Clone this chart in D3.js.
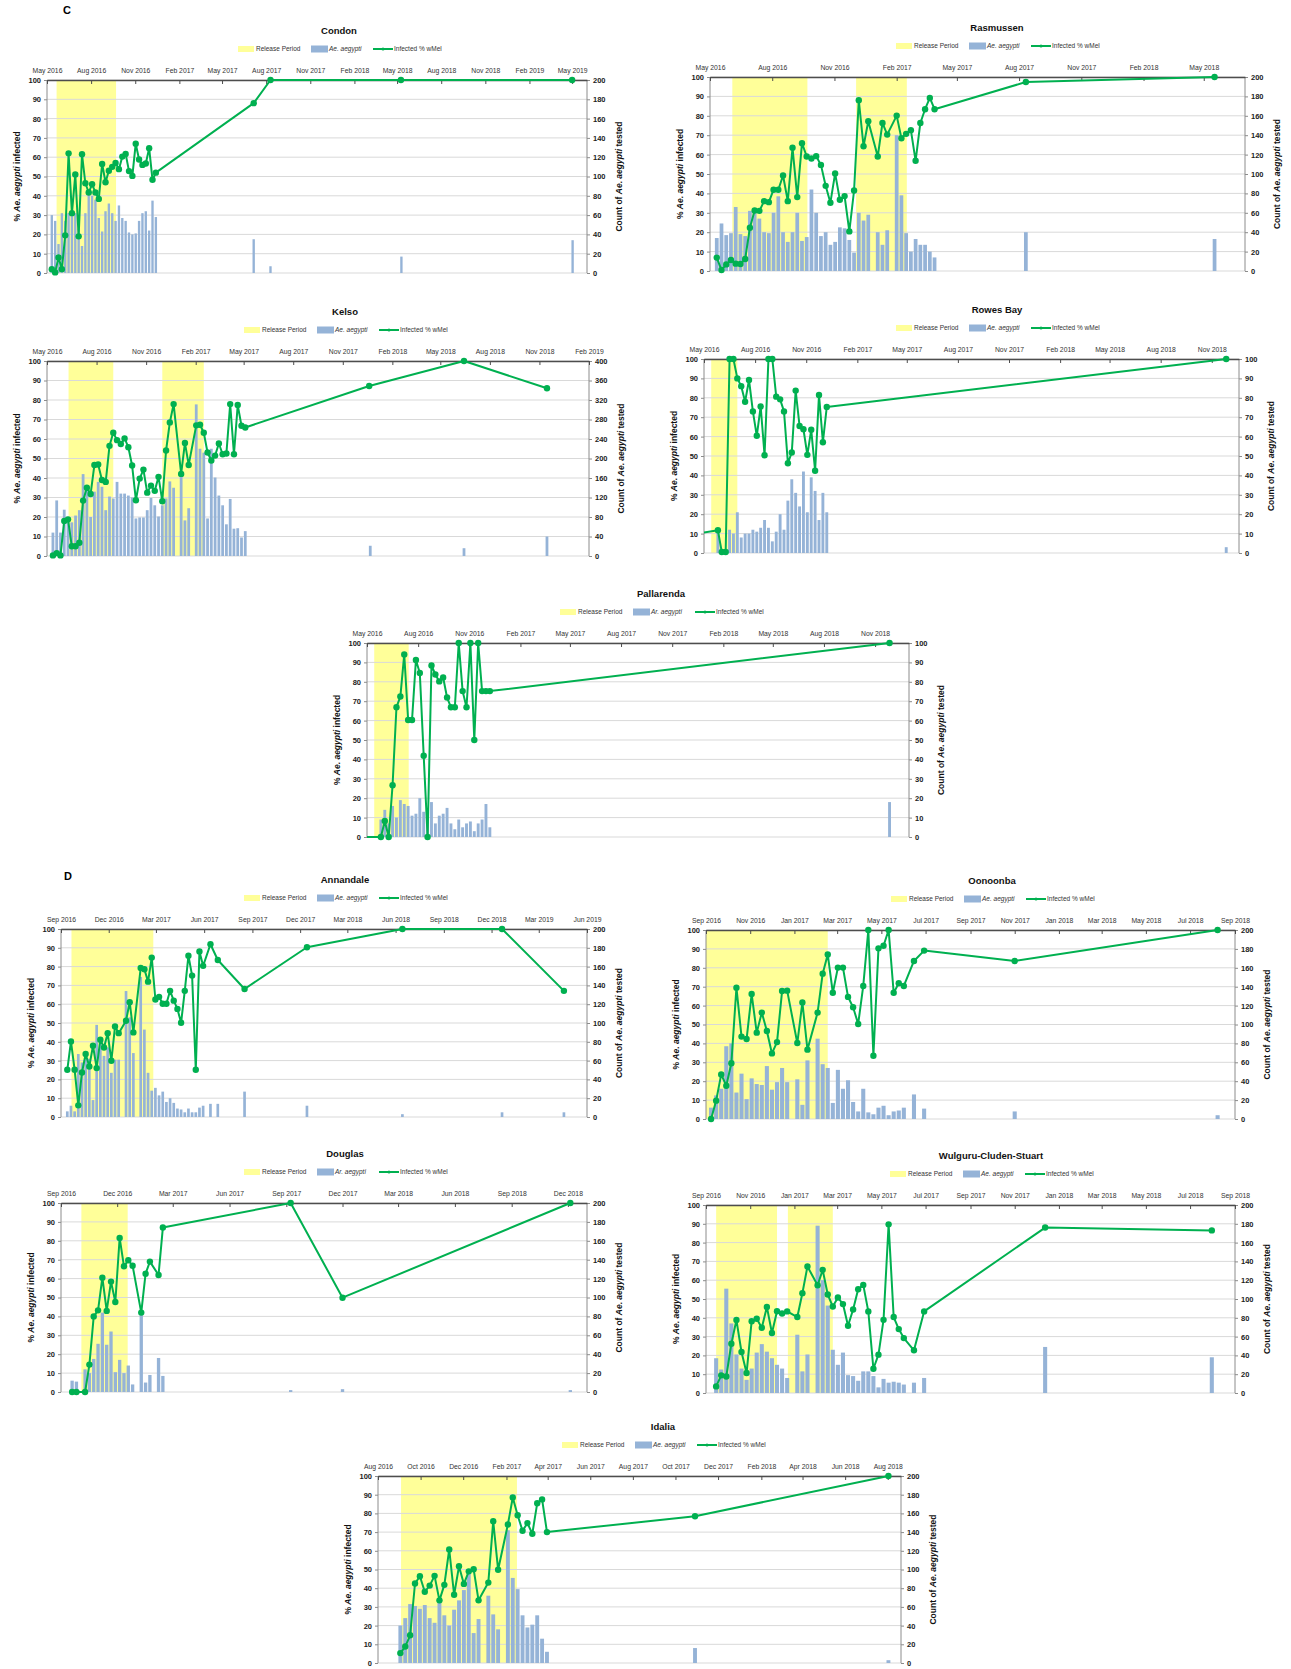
<!DOCTYPE html>
<html><head><meta charset="utf-8">
<script src="https://cdn.jsdelivr.net/npm/d3@7"></script>
<style>body{margin:0;background:#fff}text{font-family:"Liberation Sans",Arial,sans-serif}</style>
</head><body><svg id="c" width="1291" height="1669"></svg>
<script>
// ---------------- DATA ----------------
// weekly series: first date, then one value per week (null = no sample)
const condonStart = "2016-05-11";
const condonLine = [2,0.3,8,2,19.5,62,31,51,19,61.5,46.5,41.7,46,41.7,38.4,56.5,47,53,55,57,53.8,60.3,61.7,52.8,50.3,67,58.8,56,56.7,64.7,48.3,52];
const condonBars = [60,54,30,62,54,62,62,62,46,28,62,82,80,76,57,43,64,72,62,54,70,57,54,42,40,41,54,62,64,44,75,58];
const condonLateLine = [["2017-07-06",88],["2017-08-10",100],["2018-05-09",100],["2019-05-01",100]];
const condonLateBars = [["2017-07-06",35],["2017-08-10",7],["2018-05-10",17],["2019-05-02",34]];
const condonRelease = [["2016-05-21","2016-09-22"]];

const rasmussenStart = "2016-05-11";
const rasmussenLine = [6.9,0.5,3.4,5.7,3.8,3.6,6.2,22.3,31.2,31,36,35.5,41.9,41.9,49.2,36,63.5,38.1,65.9,59,58,59.2,54.7,43.9,35.2,50.3,36.7,38.6,20.4,41.5,88,64.3,77.2,null,59,76.3,70.3,null,80.1,68.4,70.7,72.6,56.8,76.3,83.4,89.2,83.4];
const rasmussenBars = [34,49,37,39,66,38,36,62,61,54,40,39,60,77,40,30,40,60,31,35,84,60,36,40,27,30,45,44,32,19,60,52,58,null,40,27,42,null,140,78,39,20,33,27,27,20,14];
const rasmussenLateLine = [["2017-08-11",97.4],["2018-05-17",100]];
const rasmussenLateBars = [["2017-08-11",40],["2018-05-17",33]];
const rasmussenRelease = [["2016-06-03","2016-09-22"],["2016-12-03","2017-02-16"]];

const kelsoStart = "2016-05-12";
const kelsoLine = [0.3,1.5,0.3,18,18.8,5,5,6.8,28.4,35,31.8,46.7,46.9,39,38,56.5,63.2,59.4,57.4,60.3,55.8,46.4,28.6,39.7,44.3,32.5,36.1,33.4,40.6,28.1,54.1,68.5,77.9,null,42.1,58,46.7,null,67,67.3,63.2,53.1,49,51.5,57.7,52.2,52.6,77.9,52.2,77.4,66.8,65.9];
const kelsoBars = [48,114,48,95,80,69,83,94,168,140,80,132,152,142,94,122,118,152,128,128,124,120,77,79,79,94,119,104,81,104,118,153,140,null,167,73,98,null,311,220,212,77,220,161,124,104,65,117,56,57,38,51];
const kelsoLateLine = [["2017-12-20",87.2],["2018-06-14",100],["2018-11-15",86]];
const kelsoLateBars = [["2017-12-22",21],["2018-06-14",16],["2018-11-15",40]];
const kelsoRelease = [["2016-06-10","2016-09-01"],["2016-12-01","2017-02-16"]];

const rowesStart = "2016-05-26";
const rowesPrior = [["2016-03-01",8]];
const rowesLine = [11.7,0.5,0.5,100,100,90,86,78,89.2,73,60.4,75.5,50.4,100,100,80.6,79.2,73,46.3,51.8,83.7,65.5,63.8,50.6,63.5,42.4,81.5,57.1,75.3];
const rowesBars = [11,null,null,12,10,21,8,10,10,12,11,13,17,13,6,11,20,12,27,38,31,24,42,21,39,32,17,31,21];
const rowesLateLine = [["2018-11-27",100]];
const rowesLateBars = [["2018-11-27",3]];
const rowesRelease = [["2016-05-14","2016-06-30"]];

const pallarendaStart = "2016-05-26";
const pallarendaPrior = [["2016-03-01",0]];
const pallarendaLine = [0,8.3,0,26.7,66.9,72.4,94.1,60.3,60.3,91.2,84.5,41.9,0,88.4,83.8,80.2,82.2,71.9,66.9,66.9,100,75.2,66.9,100,50,100,75.2,75.2,75.2];
const pallarendaBars = [9,14,7,16,10,19,17,16,11,12,20,13,13,18,7,11,12,15,7,4,9,5,7,8,3,7,9,17,5];
const pallarendaLateLine = [["2018-11-27",100]];
const pallarendaLateBars = [["2018-11-27",18]];
const pallarendaRelease = [["2016-05-14","2016-07-15"]];

const annandaleStart = "2016-09-13";
const annandaleLine = [25.1,40.2,25.1,6.2,23.7,33.5,26.9,37.9,26,41.1,37,44.6,29.9,48.1,44.6,null,51.2,61.1,45,null,79.3,78.6,72,84.8,62.5,63.9,60.2,60.2,67.1,61.9,57.5,50.1,67.1,85.8,75.2,25.1,88,80.4,null,91.9,null,83.5];
const annandaleBars = [6,12,6,67,58,66,62,18,98,84,65,74,47,61,61,null,134,106,68,null,149,93,47,28,31,23,27,16,20,15,9,8,5,9,5,5,10,12,null,14,null,14];
const annandaleLateLine = [["2017-08-17",68.1],["2017-12-14",90.3],["2018-06-14",100],["2018-12-21",100],["2019-04-18",67.1]];
const annandaleLateBars = [["2017-08-17",27],["2017-12-14",12],["2018-06-14",3],["2018-12-21",5],["2019-04-18",5]];
const annandaleRelease = [["2016-09-21","2017-02-24"]];

const oonoonbaStart = "2016-09-08";
const oonoonbaLine = [0,9.7,23.6,17.6,29.5,69.5,43.6,42.3,66.1,45.7,56.3,46.6,34.7,40.7,67.7,67.9,null,40.2,61.7,36.7,null,56.3,76.9,87.1,66.8,80.1,80.1,64.6,59.1,50.3,70.4,100,33.5,90.3,91.7,100,66.8,71.8,70.4,null,83.6,null,89.1];
const oonoonbaBars = [12,25,32,77,80,28,48,21,43,37,36,56,31,39,54,39,null,42,15,62,null,85,58,54,17,52,32,41,18,8,32,7,5,12,14,4,8,9,12,null,26,null,11];
const oonoonbaLateLine = [["2017-11-01",83.6],["2018-08-08",100]];
const oonoonbaLateBars = [["2017-11-01",8],["2018-08-08",4]];
const oonoonbaRelease = [["2016-09-01","2017-02-16"]];

const douglasStart = "2016-09-19";
const douglasLine = [0,0,null,0,14.5,40,43.2,60.5,42.9,58.4,47.6,81.5,66.5,69.7,66.8,null,42,62.6,69,null,61.9,87];
const douglasBars = [12,11,null,24,20,35,51,84,50,64,21,34,20,28,8,null,84,10,18,null,36,17];
const douglasLateLine = [["2017-09-08",100],["2017-12-01",49.9],["2018-12-05",100]];
const douglasLateBars = [["2017-09-08",2],["2017-12-01",3],["2018-12-05",2]];
const douglasRelease = [["2016-10-04","2016-12-18"]];

const wulguruStart = "2016-09-15";
const wulguruLine = [3.5,9.4,8.8,26.2,38.8,21.8,10.6,38.2,39.5,34.7,45.8,31.9,43.5,42.3,43.4,null,40.4,53.1,67.3,null,57.3,65.5,52.4,46,50.8,47.3,35.8,44.4,55.2,57.5,43.4,12.9,20.4,38.9,89.7,40.4,34,29.2,null,22.7,null,43.4];
const wulguruBars = [37,25,111,74,41,26,14,26,43,52,44,37,30,26,16,null,62,23,41,null,178,120,93,46,30,43,19,18,13,23,23,18,6,15,11,12,11,9,null,11,null,16];
const wulguruLateLine = [["2017-12-13",88],["2018-07-31",86.5]];
const wulguruLateBars = [["2017-12-13",49],["2018-07-31",38]];
const wulguruRelease = [["2016-09-15","2016-12-08"],["2016-12-23","2017-02-23"]];

const idaliaStart = "2016-09-02";
const idaliaLine = [5.3,8.8,14.8,42.5,46.4,38.1,41.4,46.6,33.5,41.8,60.7,36.5,51.7,42.3,49,50.1,33.5,null,43,75.8,49.9,null,74.1,88.5,79,70.7,74.8,69.1,85.4,87.5,70];
const idaliaBars = [40,48,63,61,58,62,48,43,65,51,40,57,67,78,98,32,47,null,72,52,36,null,142,91,79,51,38,41,51,26,12];
const idaliaLateLine = [["2017-10-29",78.5],["2018-08-02",100]];
const idaliaLateBars = [["2017-10-29",16],["2018-08-02",3]];
const idaliaRelease = [["2016-09-03","2017-02-16"]];

const legendLabels = ["Release Period", "Infected % wMel"];

// ---------------- PANEL CONFIG ----------------
const panels = [
 {name:"Condon", d0:"2016-05-01", d1:"2019-06-01", months:3, rmax:200, start:condonStart, line:condonLine, bars:condonBars, lateLine:condonLateLine, lateBars:condonLateBars, release:condonRelease, prior:[], sp:"Ae. aegypti",
  L:47,R:587,T:80,B:273,tx:339},
 {name:"Rasmussen", d0:"2016-05-01", d1:"2018-07-01", months:3, rmax:200, start:rasmussenStart, line:rasmussenLine, bars:rasmussenBars, lateLine:rasmussenLateLine, lateBars:rasmussenLateBars, release:rasmussenRelease, prior:[], sp:"Ae. aegypti",
  L:710,R:1245,T:77,B:271,tx:997},
 {name:"Kelso", d0:"2016-05-01", d1:"2019-02-01", months:3, rmax:400, start:kelsoStart, line:kelsoLine, bars:kelsoBars, lateLine:kelsoLateLine, lateBars:kelsoLateBars, release:kelsoRelease, prior:[], sp:"Ae. aegypti",
  L:47,R:589,T:361,B:556,tx:345},
 {name:"Rowes Bay", d0:"2016-05-01", d1:"2018-12-20", months:3, rmax:100, start:rowesStart, line:rowesLine, bars:rowesBars, lateLine:rowesLateLine, lateBars:rowesLateBars, release:rowesRelease, prior:rowesPrior, sp:"Ae. aegypti",
  L:704,R:1239,T:359,B:553,tx:997},
 {name:"Pallarenda", d0:"2016-05-01", d1:"2019-01-01", months:3, rmax:100, start:pallarendaStart, line:pallarendaLine, bars:pallarendaBars, lateLine:pallarendaLateLine, lateBars:pallarendaLateBars, release:pallarendaRelease, prior:pallarendaPrior, sp:"Ar. aegypti",
  L:367,R:909,T:643,B:837,tx:661},
 {name:"Annandale", d0:"2016-09-01", d1:"2019-06-01", months:3, rmax:200, start:annandaleStart, line:annandaleLine, bars:annandaleBars, lateLine:annandaleLateLine, lateBars:annandaleLateBars, release:annandaleRelease, prior:[], sp:"Ae. aegypti",
  L:61,R:587,T:929,B:1117,tx:345},
 {name:"Oonoonba", d0:"2016-09-01", d1:"2018-09-01", months:2, rmax:200, start:oonoonbaStart, line:oonoonbaLine, bars:oonoonbaBars, lateLine:oonoonbaLateLine, lateBars:oonoonbaLateBars, release:oonoonbaRelease, prior:[], sp:"Ae. aegypti",
  L:706,R:1235,T:930,B:1119,tx:992},
 {name:"Douglas", d0:"2016-09-01", d1:"2019-01-01", months:3, rmax:200, start:douglasStart, line:douglasLine, bars:douglasBars, lateLine:douglasLateLine, lateBars:douglasLateBars, release:douglasRelease, prior:[], sp:"Ar. aegypti",
  L:61,R:587,T:1203,B:1392,tx:345},
 {name:"Wulguru-Cluden-Stuart", d0:"2016-09-01", d1:"2018-09-01", months:2, rmax:200, start:wulguruStart, line:wulguruLine, bars:wulguruBars, lateLine:wulguruLateLine, lateBars:wulguruLateBars, release:wulguruRelease, prior:[], sp:"Ae. aegypti",
  L:706,R:1235,T:1205,B:1393,tx:991},
 {name:"Idalia", d0:"2016-08-01", d1:"2018-08-20", months:2, rmax:200, start:idaliaStart, line:idaliaLine, bars:idaliaBars, lateLine:idaliaLateLine, lateBars:idaliaLateBars, release:idaliaRelease, prior:[], sp:"Ae. aegypti",
  L:378,R:901,T:1476,B:1663,tx:663}
];

// ---------------- DRAW ----------------
const svg = d3.select("#c");
const parse = d3.timeParse("%Y-%m-%d");
const fmt = d3.timeFormat("%b %Y");
const YELLOW = "#FFFF99", BLUE = "#95B3D7", GREEN = "#00B050";

svg.append("text").attr("x",63).attr("y",14).attr("font-size",11).attr("font-weight","bold").text("C");
svg.append("text").attr("x",64).attr("y",880).attr("font-size",11).attr("font-weight","bold").text("D");

panels.forEach((p,pi) => {
  const g = svg.append("g");
  const d0 = parse(p.d0), d1 = parse(p.d1);
  const x = d3.scaleTime().domain([d0,d1]).range([p.L,p.R]);
  const y = d3.scaleLinear().domain([0,100]).range([p.B,p.T]);
  const y2 = d3.scaleLinear().domain([0,p.rmax]).range([p.B,p.T]);
  const s0 = parse(p.start);
  const wk = i => d3.timeDay.offset(s0, 7*i);

  // release periods
  g.selectAll(null).data(p.release).join("rect")
    .attr("x", d => x(parse(d[0]))).attr("width", d => x(parse(d[1])) - x(parse(d[0])))
    .attr("y", p.T).attr("height", p.B - p.T).attr("fill", YELLOW);

  // gridlines
  g.selectAll(null).data(d3.range(0,101,10)).join("line")
    .attr("x1",p.L).attr("x2",p.R).attr("y1",d=>y(d)).attr("y2",d=>y(d))
    .attr("stroke","#D9D9D9").attr("stroke-width",1);

  // bars
  const barData = p.bars.map((v,i)=>({d:wk(i), v})).filter(b=>b.v!=null)
    .concat(p.lateBars.map(b=>({d:parse(b[0]), v:b[1]})));
  const bw = x(d3.timeDay.offset(d0,7)) - x(d0);
  g.selectAll(null).data(barData).join("rect")
    .attr("x", b => x(b.d) - bw/2 + 0.5).attr("width", Math.max(1, bw - 1))
    .attr("y", b => y2(b.v)).attr("height", b => p.B - y2(b.v)).attr("fill", BLUE);

  // axes lines
  g.append("line").attr("x1",p.L).attr("x2",p.L).attr("y1",p.T).attr("y2",p.B).attr("stroke","#8C8C8C");
  g.append("line").attr("x1",p.R).attr("x2",p.R).attr("y1",p.T).attr("y2",p.B).attr("stroke","#8C8C8C");

  // left axis
  const ly = g.append("g").attr("transform",`translate(${p.L},0)`)
    .call(d3.axisLeft(y).tickValues(d3.range(0,101,10)).tickSize(3).tickPadding(3));
  ly.select(".domain").remove();
  ly.selectAll("line").attr("stroke","#8C8C8C");
  ly.selectAll("text").attr("font-size",7.5).attr("font-weight","bold").attr("fill","#222")
    .style("font-family",'"Liberation Sans",Arial,sans-serif');
  // right axis
  const ry = g.append("g").attr("transform",`translate(${p.R},0)`)
    .call(d3.axisRight(y2).tickValues(d3.range(0,p.rmax+1,p.rmax/10)).tickSize(3).tickPadding(3));
  ry.select(".domain").remove();
  ry.selectAll("line").attr("stroke","#8C8C8C");
  ry.selectAll("text").attr("font-size",7.5).attr("font-weight","bold").attr("fill","#222")
    .style("font-family",'"Liberation Sans",Arial,sans-serif');

  // top time axis
  const ticks = d3.timeMonth.range(d0, d3.timeDay.offset(d1,1), p.months);
  const tx = g.append("g").attr("transform",`translate(0,${p.T})`)
    .call(d3.axisTop(x).tickValues(ticks).tickFormat(fmt).tickSizeInner(-4).tickSizeOuter(0).tickPadding(7));
  tx.select(".domain").attr("stroke","#4D4D4D").attr("stroke-width",1.6);
  tx.selectAll("line").attr("stroke","#4D4D4D").attr("stroke-width",1);
  tx.selectAll("text").attr("font-size",6.8).attr("fill","#333")
    .style("font-family",'"Liberation Sans",Arial,sans-serif');

  // line
  const clipId = "clip"+pi;
  svg.append("clipPath").attr("id",clipId).append("rect")
    .attr("x",p.L).attr("y",p.T-6).attr("width",p.R-p.L).attr("height",p.B-p.T+12);
  const pts = p.line.map((v,i)=>({d:wk(i), v})).filter(q=>q.v!=null)
    .concat(p.lateLine.map(q=>({d:parse(q[0]), v:q[1]})));
  const all = p.prior.map(q=>({d:parse(q[0]), v:q[1]})).concat(pts);
  const lg = g.append("g").attr("clip-path",`url(#${clipId})`);
  lg.append("path").datum(all)
    .attr("d", d3.line().x(q=>x(q.d)).y(q=>y(q.v)))
    .attr("fill","none").attr("stroke",GREEN).attr("stroke-width",2).attr("stroke-linejoin","round");
  lg.selectAll(null).data(pts).join("circle")
    .attr("cx",q=>x(q.d)).attr("cy",q=>y(q.v)).attr("r",3.2).attr("fill",GREEN);

  // title
  g.append("text").attr("x",p.tx).attr("y",p.T-46).attr("text-anchor","middle")
    .attr("font-size",9.5).attr("font-weight","bold").attr("fill","#111").text(p.name);

  // legend
  const cy = p.T - 31, cx = p.tx;
  g.append("rect").attr("x",cx-101).attr("y",cy-3).attr("width",16).attr("height",6).attr("fill",YELLOW);
  g.append("text").attr("x",cx-83).attr("y",cy+2.3).attr("font-size",6.5).attr("fill","#333").text(legendLabels[0]);
  g.append("rect").attr("x",cx-28).attr("y",cy-3.5).attr("width",17).attr("height",7).attr("fill",BLUE);
  g.append("text").attr("x",cx-10).attr("y",cy+2.3).attr("font-size",6.5).attr("fill","#333")
    .attr("font-style","italic").text(p.sp);
  g.append("line").attr("x1",cx+34).attr("x2",cx+54).attr("y1",cy).attr("y2",cy).attr("stroke",GREEN).attr("stroke-width",2);
  g.append("circle").attr("cx",cx+44).attr("cy",cy).attr("r",1.5).attr("fill",GREEN);
  g.append("text").attr("x",cx+55).attr("y",cy+2.3).attr("font-size",6.5).attr("fill","#333").text(legendLabels[1]);

  // axis titles
  const my = (p.T+p.B)/2;
  const t1 = g.append("text").attr("transform",`translate(${p.L-27},${my}) rotate(-90)`)
    .attr("text-anchor","middle").attr("font-size",8.5).attr("font-weight","bold").attr("fill","#111");
  t1.append("tspan").text("% ");
  t1.append("tspan").attr("font-style","italic").text("Ae. aegypti");
  t1.append("tspan").text(" infected");
  const t2 = g.append("text").attr("transform",`translate(${p.R+35},${my}) rotate(-90)`)
    .attr("text-anchor","middle").attr("font-size",8.5).attr("font-weight","bold").attr("fill","#111");
  t2.append("tspan").text("Count of ");
  t2.append("tspan").attr("font-style","italic").text("Ae. aegypti");
  t2.append("tspan").text(" tested");
});
</script></body></html>
